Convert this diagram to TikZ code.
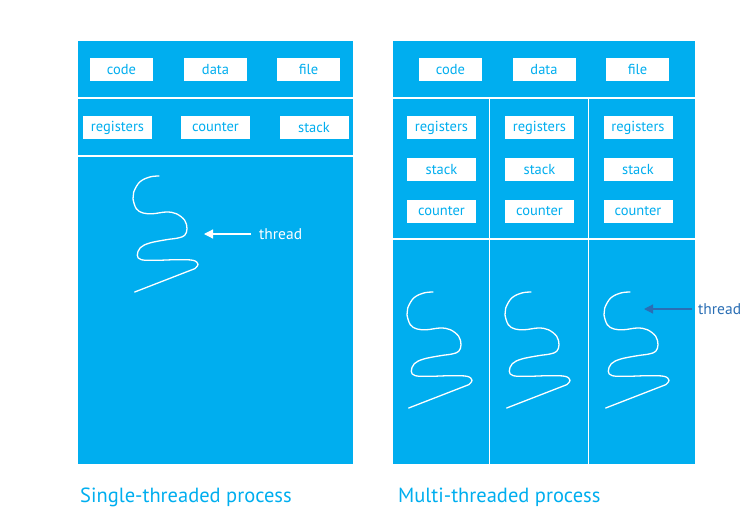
\documentclass[tikz,border=0pt]{standalone}
\usepackage{fontspec}
\setmainfont{PT Sans}
\usetikzlibrary{arrows.meta}
\definecolor{cyanfill}{HTML}{00AEEF}
\definecolor{darkarrow}{HTML}{2A6EB4}
\tikzset{
  panel/.style={fill=cyanfill, draw=none, anchor=north west, inner sep=0pt},
  sep/.style={draw=white, line width=1.4pt},
  box/.style={fill=white, text=cyanfill, minimum height=23pt, inner sep=0pt, font=\fontsize{14.5}{14.5}\selectfont},
  topbox/.style={box, minimum width=63pt},
  regbox/.style={box, minimum width=69pt},
  threadline/.style={draw=white, line width=1.3pt, line cap=round, line join=round},
  threadpic/.pic={
    \draw[threadline] plot[smooth, tension=0.6] coordinates {(0,0) (-9.3,1) (-19.3,6) (-25.3,16) (-26,22.7) (-22.7,32.7) (-16,37) (-6,37.7) (7.3,36) (17.3,37.7) (25.7,44.3) (28,52.7) (25.7,59.3) (19,62) (7.3,63.7) (-9.3,67) (-18.7,71.7) (-21.7,79.3) (-17.7,83.7) (-2.7,84.3) (17.3,83.7) (34,84.3) (39,88.3) (35.7,92.7)} -- (-24.3,116);
  },
  caption/.style={text=cyanfill, anchor=west, inner sep=0pt, font=\fontsize{20.5}{20.5}\selectfont},
  threadlabel/.style={anchor=west, inner sep=0pt, font=\fontsize{15.5}{15.5}\selectfont}
}
\begin{document}
\begin{tikzpicture}[x=1pt, y=-1pt]
\useasboundingbox (0,0) rectangle (752,525);
% left panel
\node[panel, minimum width=275pt, minimum height=423pt] (lp) at (78,41) {};
\draw[sep] (78,98) -- (353,98);
\draw[sep] (78,156) -- (353,156);
\node[topbox] (lcode) at (121.5,69.5) {code};
\node[topbox] (ldata) at (215.5,69.5) {data};
\node[topbox] (lfile) at (308.5,69.5) {file};
\node[regbox] (lreg) at (117.5,127.5) {registers};
\node[regbox] (lcnt) at (215.5,127.5) {counter};
\node[regbox] (lstk) at (314,127.5) {stack};
\pic at (159,176) {threadpic};
\node[threadlabel, text=white] (lthr) at (259,234) {thread};
\coordinate (ltip) at (204,234);
\draw[white, line width=1.2pt, -{Triangle[length=9pt,width=9pt]}] ([xshift=-8pt]lthr.west) -- (ltip);
% right panel
\node[panel, minimum width=302pt, minimum height=423pt] (rp) at (393,41) {};
\draw[sep] (393,98) -- (695,98);
\draw[sep] (393,239) -- (695,239);
\draw[sep] (489.5,98) -- (489.5,464);
\draw[sep] (588.5,98) -- (588.5,464);
\node[topbox] (rcode) at (450.5,69.5) {code};
\node[topbox] (rdata) at (544,69.5) {data};
\node[topbox] (rfile) at (637.5,69.5) {file};
\foreach \i/\cx in {1/441.5, 2/539.5, 3/638} {
  \node[regbox] (rreg\i) at (\cx,127.5) {registers};
  \node[regbox] (rstk\i) at (\cx,169.5) {stack};
  \node[regbox] (rcnt\i) at (\cx,211) {counter};
}
\pic at (433,292) {threadpic};
\pic at (531,292) {threadpic};
\pic at (630,292) {threadpic};
\node[threadlabel, text=darkarrow] (rthr) at (698,309) {thread};
\coordinate (rtip) at (644,309);
\draw[darkarrow, line width=1.2pt, -{Triangle[length=9pt,width=9pt]}] ([xshift=-6pt]rthr.west) -- (rtip);
% captions
\node[caption] (lcap) at (80,497) {Single-threaded process};
\node[caption] (rcap) at (398,497) {Multi-threaded process};
\end{tikzpicture}
\end{document}
